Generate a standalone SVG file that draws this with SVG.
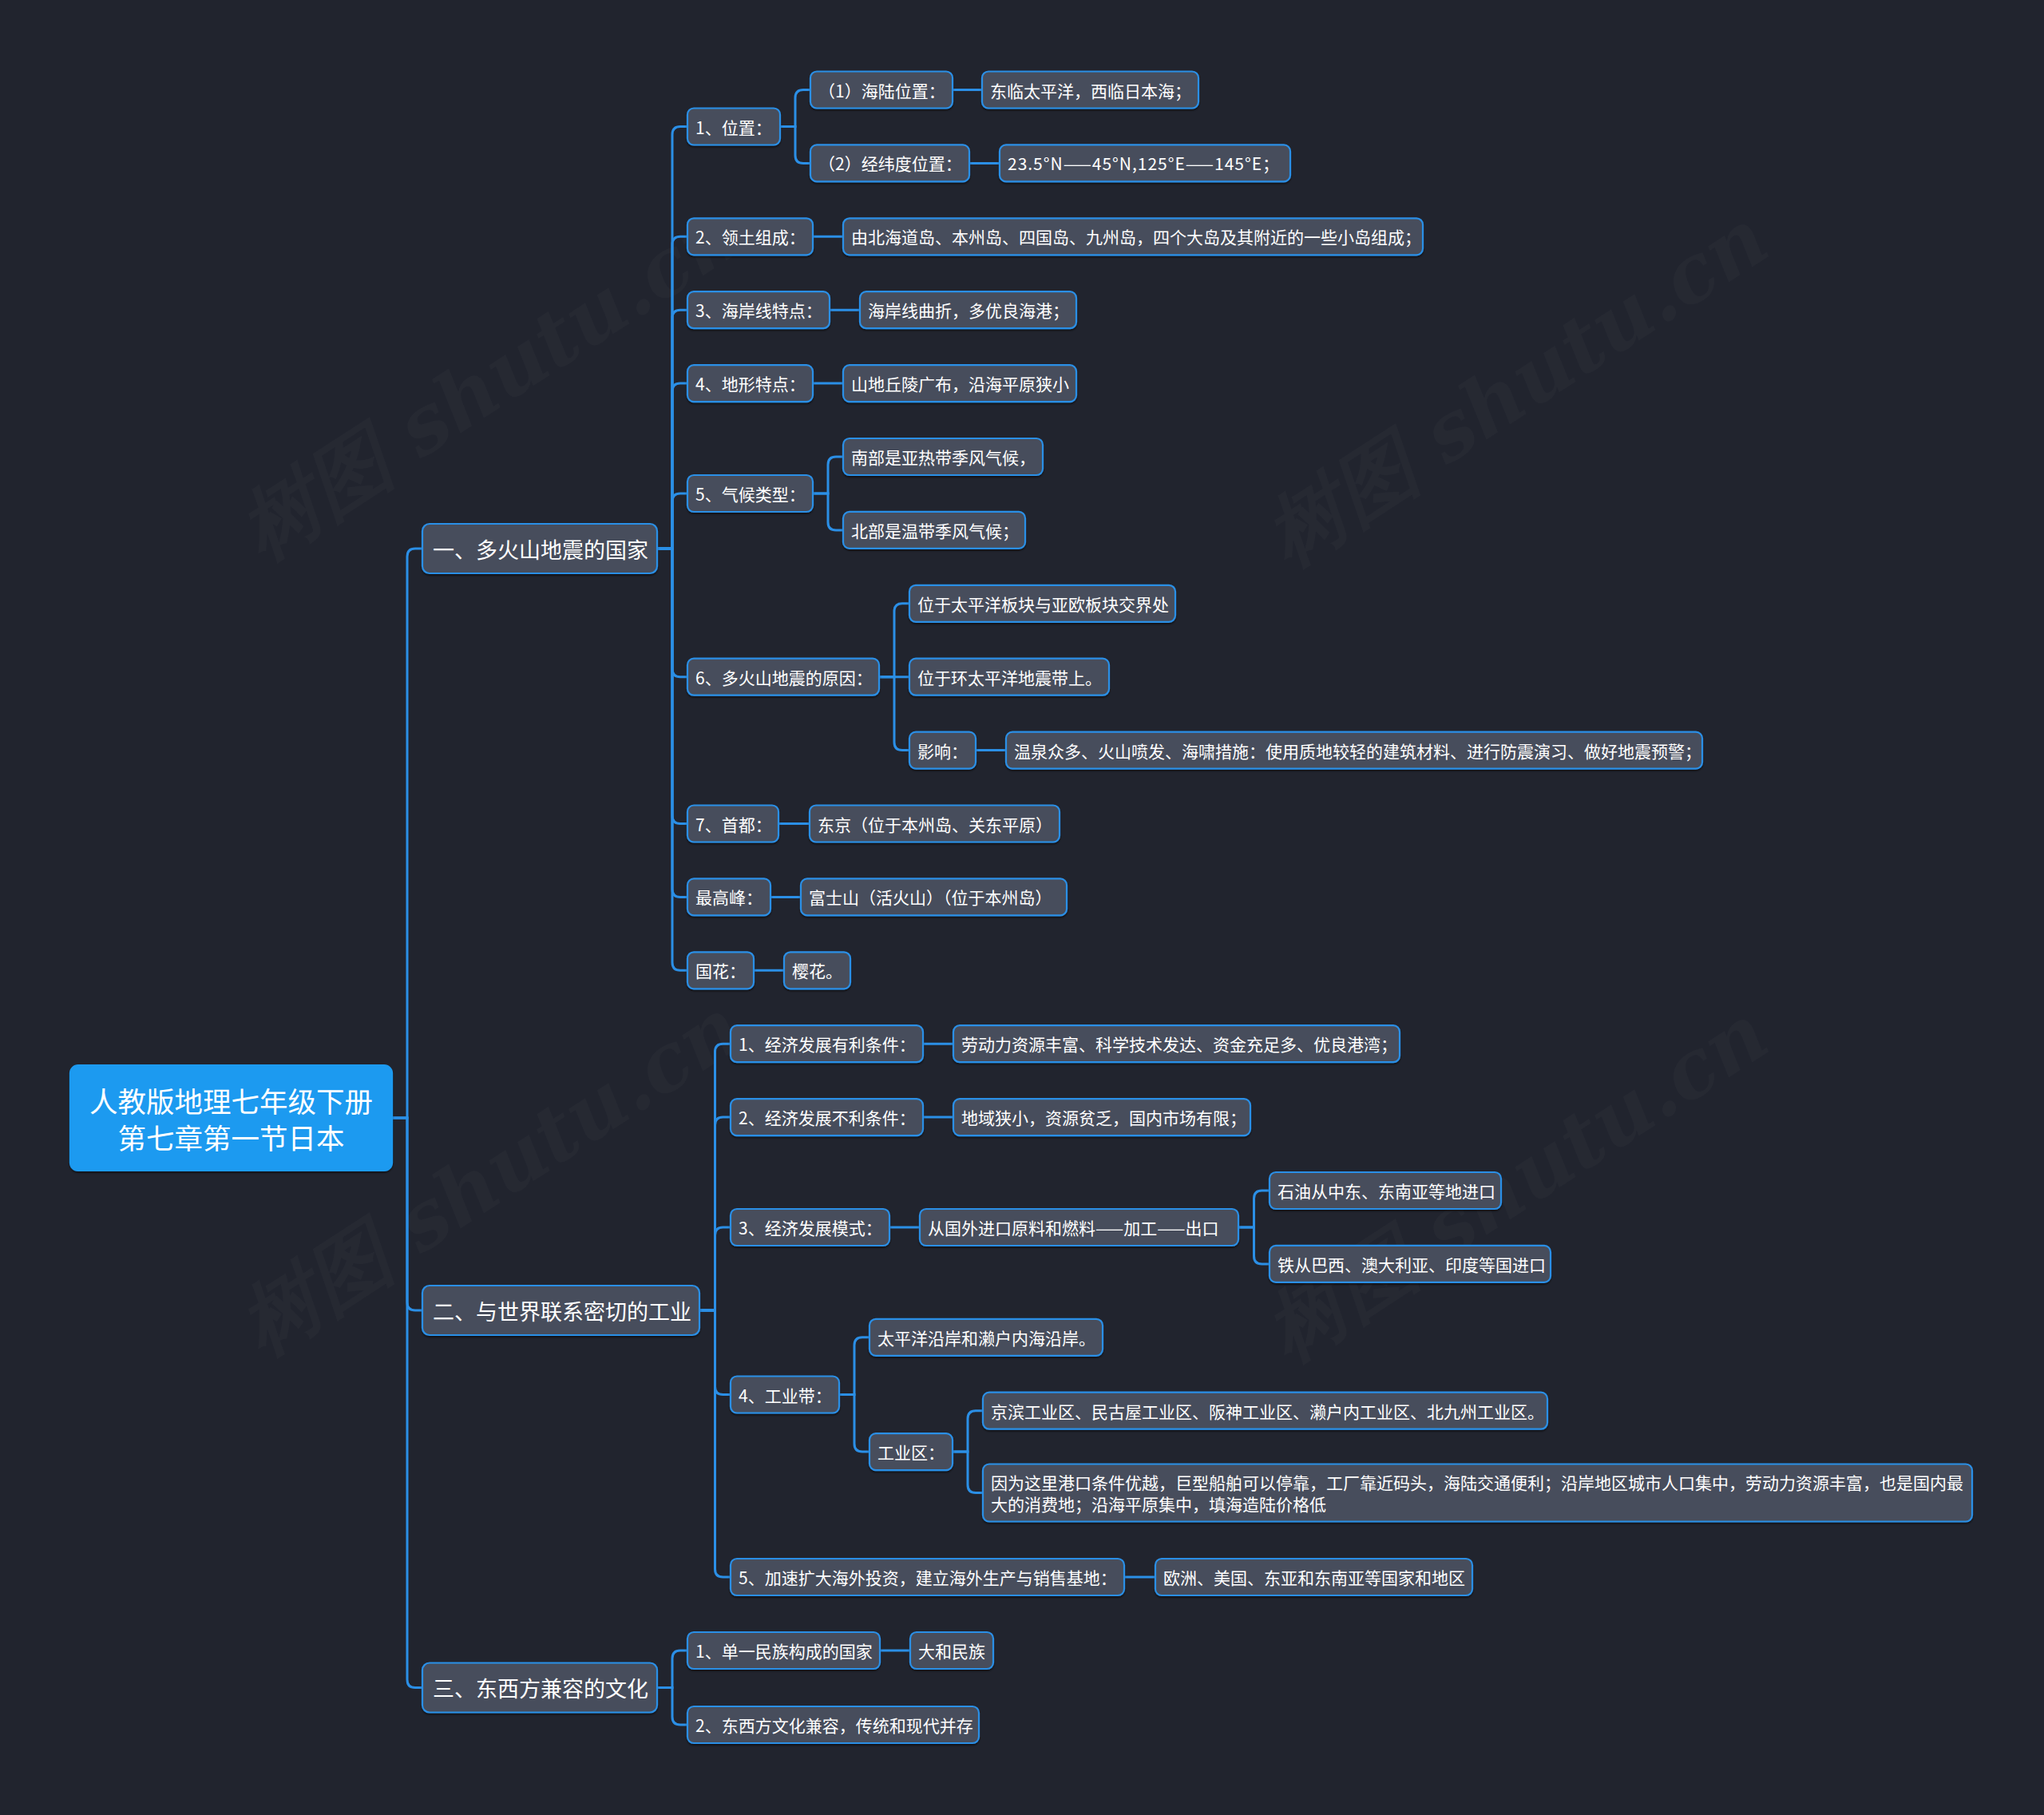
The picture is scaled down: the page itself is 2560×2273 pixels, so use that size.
<svg xmlns="http://www.w3.org/2000/svg" width="2560" height="2273" viewBox="0 0 2560 2273">
<style>
.bg{fill:#21242e}
.n rect{fill:#474e5c;stroke:#2b8fe6;stroke-width:2.2;filter:url(#sh)}
.n text{font-family:"Noto Sans CJK SC","Noto Sans",sans-serif;font-size:21px;fill:#ffffff;dominant-baseline:central}
.l1 text{font-size:27px}
.root rect{fill:#1e9af0;stroke:#1e9af0}
.root text{font-size:35.5px;text-anchor:middle}
.c path{fill:none;stroke:#2b8fe6;stroke-width:3}
.wm{font-family:"DejaVu Serif",serif;font-style:italic;font-weight:bold;font-size:100px;fill:#ffffff;fill-opacity:0.022}
</style>
<defs>
<filter id="sh" x="-5%" y="-20%" width="110%" height="150%"><feDropShadow dx="0" dy="2" stdDeviation="1" flood-color="#000000" flood-opacity="0.5"/></filter>
</defs>
<rect class="bg" x="0" y="0" width="2560" height="2273"/>
<g id="watermarks">
<text class="wm" transform="translate(633,506) rotate(-33)" text-anchor="middle">树图 shutu.cn</text>
<text class="wm" transform="translate(1918,514) rotate(-33)" text-anchor="middle">树图 shutu.cn</text>
<text class="wm" transform="translate(633,1502) rotate(-33)" text-anchor="middle">树图 shutu.cn</text>
<text class="wm" transform="translate(1918,1510) rotate(-33)" text-anchor="middle">树图 shutu.cn</text>
</g>
<g id="connectors" class="c">
<path d="M491 1400 H510 V697 Q510 687 520 687 H529"/>
<path d="M491 1400 H510 V1631 Q510 1641 520 1641 H529"/>
<path d="M491 1400 H510 V2103.5 Q510 2113.5 520 2113.5 H529"/>
<path d="M823 687 H842 V168.5 Q842 158.5 852 158.5 H861"/>
<path d="M823 687 H842 V306.3 Q842 296.3 852 296.3 H861"/>
<path d="M823 687 H842 V398.2 Q842 388.2 852 388.2 H861"/>
<path d="M823 687 H842 V490.1 Q842 480.1 852 480.1 H861"/>
<path d="M823 687 H842 V628 Q842 618 852 618 H861"/>
<path d="M823 687 H842 V837.7 Q842 847.7 852 847.7 H861"/>
<path d="M823 687 H842 V1021.5 Q842 1031.5 852 1031.5 H861"/>
<path d="M823 687 H842 V1113.4 Q842 1123.4 852 1123.4 H861"/>
<path d="M823 687 H842 V1205.3 Q842 1215.3 852 1215.3 H861"/>
<path d="M977 158.5 H996 V122.5 Q996 112.5 1006 112.5 H1015"/>
<path d="M977 158.5 H996 V194.4 Q996 204.4 1006 204.4 H1015"/>
<path d="M1193 112.5 H1230"/>
<path d="M1214 204.4 H1252"/>
<path d="M1018 296.3 H1056"/>
<path d="M1039 388.2 H1077"/>
<path d="M1018 480.1 H1056"/>
<path d="M1018 618 H1037 V582 Q1037 572 1047 572 H1056"/>
<path d="M1018 618 H1037 V653.9 Q1037 663.9 1047 663.9 H1056"/>
<path d="M1101 847.7 H1120 V765.8 Q1120 755.8 1130 755.8 H1139"/>
<path d="M1101 847.7 H1139"/>
<path d="M1101 847.7 H1120 V929.6 Q1120 939.6 1130 939.6 H1139"/>
<path d="M1222 939.6 H1260"/>
<path d="M975 1031.5 H1014"/>
<path d="M965 1123.4 H1003"/>
<path d="M944 1215.3 H982"/>
<path d="M876 1641 H895.5 V1317.2 Q895.5 1307.2 905.5 1307.2 H915"/>
<path d="M876 1641 H895.5 V1409.1 Q895.5 1399.1 905.5 1399.1 H915"/>
<path d="M876 1641 H895.5 V1547 Q895.5 1537 905.5 1537 H915"/>
<path d="M876 1641 H895.5 V1736.5 Q895.5 1746.5 905.5 1746.5 H915"/>
<path d="M876 1641 H895.5 V1965 Q895.5 1975 905.5 1975 H915"/>
<path d="M1156 1307.2 H1194"/>
<path d="M1156 1399.1 H1194"/>
<path d="M1114 1537 H1152"/>
<path d="M1551 1537 H1570.5 V1501 Q1570.5 1491 1580.5 1491 H1590"/>
<path d="M1551 1537 H1570.5 V1572.9 Q1570.5 1582.9 1580.5 1582.9 H1590"/>
<path d="M1051 1746.5 H1070 V1684.8 Q1070 1674.8 1080 1674.8 H1089"/>
<path d="M1051 1746.5 H1070 V1808.1 Q1070 1818.1 1080 1818.1 H1089"/>
<path d="M1193 1818.1 H1212 V1776.7 Q1212 1766.7 1222 1766.7 H1231"/>
<path d="M1193 1818.1 H1212 V1859.5 Q1212 1869.5 1222 1869.5 H1231"/>
<path d="M1408 1975 H1447"/>
<path d="M823 2113.5 H842 V2077 Q842 2067 852 2067 H861"/>
<path d="M823 2113.5 H842 V2150 Q842 2160 852 2160 H861"/>
<path d="M1102 2067 H1140"/>
</g>
<g id="root" class="n root"><rect x="88" y="1334" width="403" height="132" rx="10"/><text x="289.5" y="1377">人教版地理七年级下册</text><text x="289.5" y="1423">第七章第一节日本</text></g>
<g id="s1" class="n l1"><rect x="529" y="656" width="294" height="62" rx="9"/><text x="542" y="687">一、多火山地震的国家</text></g>
<g id="s2" class="n l1"><rect x="529" y="1610" width="347" height="62" rx="9"/><text x="542" y="1641">二、与世界联系密切的工业</text></g>
<g id="s3" class="n l1"><rect x="529" y="2082.5" width="294" height="62" rx="9"/><text x="542" y="2113.5">三、东西方兼容的文化</text></g>
<g id="a1" class="n"><rect x="861" y="135.5" width="116" height="46" rx="8"/><text x="871" y="158.5">1、位置：</text></g>
<g id="a1a" class="n"><rect x="1015" y="89.5" width="178" height="46" rx="8"/><text x="1025" y="112.5">（1）海陆位置：</text></g>
<g id="a1a1" class="n"><rect x="1230" y="89.5" width="271" height="46" rx="8"/><text x="1240" y="112.5">东临太平洋，西临日本海；</text></g>
<g id="a1b" class="n"><rect x="1015" y="181.4" width="199" height="46" rx="8"/><text x="1025" y="204.4">（2）经纬度位置：</text></g>
<g id="a1b1" class="n"><rect x="1252" y="181.4" width="364" height="46" rx="8"/><text x="1262" y="204.4" textLength="340" lengthAdjust="spacing">23.5°N——45°N,125°E——145°E；</text></g>
<g id="a2" class="n"><rect x="861" y="273.3" width="157" height="46" rx="8"/><text x="871" y="296.3">2、领土组成：</text></g>
<g id="a2a" class="n"><rect x="1056" y="273.3" width="726" height="46" rx="8"/><text x="1066" y="296.3">由北海道岛、本州岛、四国岛、九州岛，四个大岛及其附近的一些小岛组成；</text></g>
<g id="a3" class="n"><rect x="861" y="365.2" width="178" height="46" rx="8"/><text x="871" y="388.2">3、海岸线特点：</text></g>
<g id="a3a" class="n"><rect x="1077" y="365.2" width="271" height="46" rx="8"/><text x="1087" y="388.2">海岸线曲折，多优良海港；</text></g>
<g id="a4" class="n"><rect x="861" y="457.1" width="157" height="46" rx="8"/><text x="871" y="480.1">4、地形特点：</text></g>
<g id="a4a" class="n"><rect x="1056" y="457.1" width="292" height="46" rx="8"/><text x="1066" y="480.1">山地丘陵广布，沿海平原狭小</text></g>
<g id="a5" class="n"><rect x="861" y="595" width="157" height="46" rx="8"/><text x="871" y="618">5、气候类型：</text></g>
<g id="a5a" class="n"><rect x="1056" y="549" width="250" height="46" rx="8"/><text x="1066" y="572">南部是亚热带季风气候，</text></g>
<g id="a5b" class="n"><rect x="1056" y="640.9" width="228" height="46" rx="8"/><text x="1066" y="663.9">北部是温带季风气候；</text></g>
<g id="a6" class="n"><rect x="861" y="824.7" width="240" height="46" rx="8"/><text x="871" y="847.7">6、多火山地震的原因：</text></g>
<g id="a6a" class="n"><rect x="1139" y="732.8" width="333" height="46" rx="8"/><text x="1149" y="755.8">位于太平洋板块与亚欧板块交界处</text></g>
<g id="a6b" class="n"><rect x="1139" y="824.7" width="250" height="46" rx="8"/><text x="1149" y="847.7">位于环太平洋地震带上。</text></g>
<g id="a6c" class="n"><rect x="1139" y="916.6" width="83" height="46" rx="8"/><text x="1149" y="939.6">影响：</text></g>
<g id="a6c1" class="n"><rect x="1260" y="916.6" width="872" height="46" rx="8"/><text x="1270" y="939.6">温泉众多、火山喷发、海啸措施：使用质地较轻的建筑材料、进行防震演习、做好地震预警；</text></g>
<g id="a7" class="n"><rect x="861" y="1008.5" width="114" height="46" rx="8"/><text x="871" y="1031.5">7、首都：</text></g>
<g id="a7a" class="n"><rect x="1014" y="1008.5" width="313" height="46" rx="8"/><text x="1024" y="1031.5">东京（位于本州岛、关东平原）</text></g>
<g id="a8" class="n"><rect x="861" y="1100.4" width="104" height="46" rx="8"/><text x="871" y="1123.4">最高峰：</text></g>
<g id="a8a" class="n"><rect x="1003" y="1100.4" width="333" height="46" rx="8"/><text x="1013" y="1123.4">富士山（活火山）（位于本州岛）</text></g>
<g id="a9" class="n"><rect x="861" y="1192.3" width="83" height="46" rx="8"/><text x="871" y="1215.3">国花：</text></g>
<g id="a9a" class="n"><rect x="982" y="1192.3" width="83" height="46" rx="8"/><text x="992" y="1215.3">樱花。</text></g>
<g id="b1" class="n"><rect x="915" y="1284.2" width="241" height="46" rx="8"/><text x="925" y="1307.2">1、经济发展有利条件：</text></g>
<g id="b1a" class="n"><rect x="1194" y="1284.2" width="559" height="46" rx="8"/><text x="1204" y="1307.2">劳动力资源丰富、科学技术发达、资金充足多、优良港湾；</text></g>
<g id="b2" class="n"><rect x="915" y="1376.1" width="241" height="46" rx="8"/><text x="925" y="1399.1">2、经济发展不利条件：</text></g>
<g id="b2a" class="n"><rect x="1194" y="1376.1" width="372" height="46" rx="8"/><text x="1204" y="1399.1">地域狭小，资源贫乏，国内市场有限；</text></g>
<g id="b3" class="n"><rect x="915" y="1514" width="199" height="46" rx="8"/><text x="925" y="1537">3、经济发展模式：</text></g>
<g id="b3a" class="n"><rect x="1152" y="1514" width="399" height="46" rx="8"/><text x="1162" y="1537">从国外进口原料和燃料——加工——出口</text></g>
<g id="b3a1" class="n"><rect x="1590" y="1468" width="290" height="46" rx="8"/><text x="1600" y="1491">石油从中东、东南亚等地进口</text></g>
<g id="b3a2" class="n"><rect x="1590" y="1559.9" width="352" height="46" rx="8"/><text x="1600" y="1582.9">铁从巴西、澳大利亚、印度等国进口</text></g>
<g id="b4" class="n"><rect x="915" y="1723.5" width="136" height="46" rx="8"/><text x="925" y="1746.5">4、工业带：</text></g>
<g id="b4a" class="n"><rect x="1089" y="1651.8" width="292" height="46" rx="8"/><text x="1099" y="1674.8">太平洋沿岸和濑户内海沿岸。</text></g>
<g id="b4b" class="n"><rect x="1089" y="1795.1" width="104" height="46" rx="8"/><text x="1099" y="1818.1">工业区：</text></g>
<g id="b4b1" class="n"><rect x="1231" y="1743.7" width="707" height="46" rx="8"/><text x="1241" y="1766.7">京滨工业区、民古屋工业区、阪神工业区、濑户内工业区、北九州工业区。</text></g>
<g id="b4b2" class="n"><rect x="1231" y="1833.5" width="1239" height="72" rx="8"/><text x="1241" y="1856">因为这里港口条件优越，巨型船舶可以停靠，工厂靠近码头，海陆交通便利；沿岸地区城市人口集中，劳动力资源丰富，也是国内最</text><text x="1241" y="1883">大的消费地；沿海平原集中，填海造陆价格低</text></g>
<g id="b5" class="n"><rect x="915" y="1952" width="493" height="46" rx="8"/><text x="925" y="1975">5、加速扩大海外投资，建立海外生产与销售基地：</text></g>
<g id="b5a" class="n"><rect x="1447" y="1952" width="397" height="46" rx="8"/><text x="1457" y="1975">欧洲、美国、东亚和东南亚等国家和地区</text></g>
<g id="c1" class="n"><rect x="861" y="2044" width="241" height="46" rx="8"/><text x="871" y="2067">1、单一民族构成的国家</text></g>
<g id="c1a" class="n"><rect x="1140" y="2044" width="104" height="46" rx="8"/><text x="1150" y="2067">大和民族</text></g>
<g id="c2" class="n"><rect x="861" y="2137" width="365" height="46" rx="8"/><text x="871" y="2160">2、东西方文化兼容，传统和现代并存</text></g>
</svg>
